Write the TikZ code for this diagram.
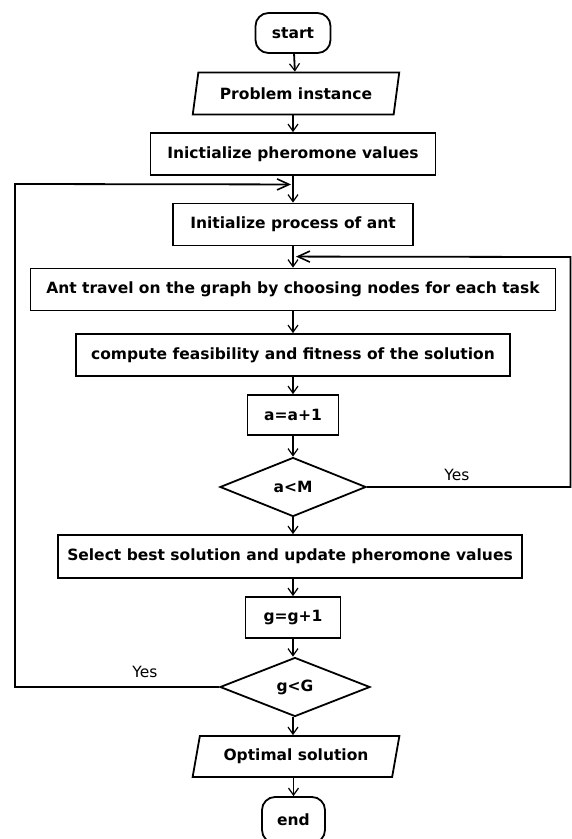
\documentclass[tikz,border=0pt]{standalone}
\usepackage{fontspec}
\setmainfont{DejaVu Sans}
\usetikzlibrary{arrows.meta, positioning, calc, shapes.geometric}

\begin{document}
\begin{tikzpicture}[
    x=1pt, y=-1pt,
    line width=1.8pt,
    every node/.style={text=black, font=\fontsize{15.5}{17}\selectfont\bfseries},
    box/.style={draw, rectangle, minimum height=42pt, inner sep=0pt},
    iobox/.style={draw, trapezium, trapezium left angle=70, trapezium right angle=110,
                  trapezium stretches=true, minimum width=207pt, minimum height=42pt, inner sep=0pt},
    term/.style={draw, rectangle, rounded corners=13pt, minimum height=40pt, inner sep=0pt},
    decision/.style={draw, diamond, minimum width=146pt, minimum height=59pt, inner sep=0pt},
    yeslbl/.style={font=\fontsize{15.5}{17}\selectfont},
    flow/.style={-{Straight Barb[length=7pt, width=10pt, line width=1.2pt]}},
    back/.style={-{Straight Barb[length=12pt, width=11pt, line width=1.6pt]}},
  ]

  % Background
  \fill[white] (0,0) rectangle (572,839);
  \useasboundingbox (0,0) rectangle (572,839);

  % === Main column ===
  \node[term, minimum width=75pt] (start) at (293,33) {start};
  \node[iobox] (prob) at (296,93.5) {Problem instance};
  \node[box, minimum width=285pt] (initph) at (293,154) {Inictialize pheromone values};
  \node[box, minimum width=240pt] (initant) at (293,224.5) {Initialize process of ant};
  \node[box, minimum width=525pt] (travel) at (293,289.5) {Ant travel on the graph by choosing nodes for each task};
  \node[box, minimum width=434pt] (comp) at (293,355) {compute feasibility and fitness of the solution};
  \node[box, minimum width=91pt, minimum height=40pt] (inca) at (293,415) {a=a+1};
  \node[decision] (testa) at (293,487) {a<M};
  \node[box, minimum width=464pt, minimum height=43pt] (update) at (290,556.5) {Select best solution and update pheromone values};
  \node[box, minimum width=95pt, minimum height=41pt] (incg) at (293,617.5) {g=g+1};
  \node[decision, minimum width=150pt] (testg) at (295,687) {g<G};
  \node[iobox, minimum height=41pt] (optsol) at (296,756.5) {Optimal solution};
  \node[term, minimum width=63pt, minimum height=46pt] (stop) at (293.5,820) {end};

  % Arrows down the column
  \draw[flow] (start) -- (prob);
  \draw[flow] (prob.south -| start) -- (initph);
  \draw[flow] (initph) -- (initant);
  \draw[flow] (initant) -- (travel);
  \draw[flow] (travel) -- (comp);
  \draw[flow] (comp) -- (inca);
  \draw[flow] (inca) -- (testa);
  \draw[flow] (testa) -- (update.north -| testa);
  \draw[flow] (update.south -| inca) -- (incg);
  \draw[flow] (incg) -- (testg.north -| incg);
  \draw[flow] (testg.south -| incg) -- (optsol.north -| incg);
  \draw[flow] (optsol.south -| stop) -- (stop);

  % === Loop back points ===
  \coordinate (mergeg) at ($(initph.south)!0.32!(initant.north)$);
  \coordinate (mergea) at ($(initant.south)!0.48!(travel.north)$);
  \coordinate (ltop) at (15,184);
  \coordinate (rtop) at (570.5,257);

  % a<M : back to the ant travel
  \draw[back] (testa.east) -| (rtop) -- ($(mergea)+(3,0)$);
  \node[yeslbl] (yesa) at (457,475) {Yes};

  % g<G : back to the ant start
  \draw[back] (testg.west) -| (ltop) -- ($(mergeg)+(-2,0)$);
  \node[yeslbl] (yesg) at (145,672) {Yes};

\end{tikzpicture}
\end{document}
